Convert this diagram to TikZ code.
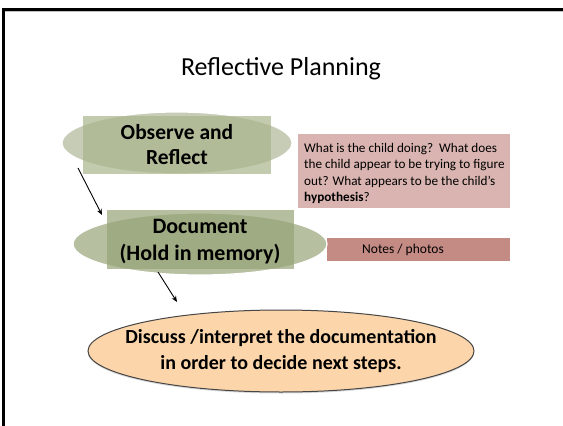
\documentclass[tikz,border=0pt]{standalone}
\usepackage{fontspec}
\setmainfont{Carlito}
\usetikzlibrary{shapes.geometric,calc,arrows.meta,shadows}
\definecolor{sageA}{RGB}{198,204,182}
\definecolor{sageAr}{RGB}{170,181,140}
\definecolor{sageB}{RGB}{183,191,161}
\definecolor{sageBr}{RGB}{150,163,118}
\definecolor{pinkbox}{RGB}{217,180,176}
\definecolor{notesbox}{RGB}{196,138,132}
\definecolor{peach}{RGB}{252,213,170}
\definecolor{rim}{RGB}{70,70,70}
\tikzset{
  ovalA/.style={ellipse, fill=sageA, draw=white, line width=1.2pt, inner sep=0pt},
  ovalB/.style={ellipse, fill=sageB, draw=white, line width=1.2pt, inner sep=0pt},
  overlay box/.style={rectangle, inner sep=0pt, fill opacity=0.7, text opacity=1},
  boldtext/.style={font=\fontsize{21.5}{25}\selectfont\bfseries, align=center, text=black},
  arr/.style={-{Stealth[length=6pt,width=5pt]}, line width=0.9pt, black},
  infobox/.style={rectangle, inner sep=0pt, anchor=north west}
}
\begin{document}
\begin{tikzpicture}[x=1pt,y=-1pt]
\useasboundingbox (0,0) rectangle (563,426);
\fill[white] (0,0) rectangle (563,426);
% slide frame
\draw[gray!50, line width=1pt] (5,11.5) -- (563,11.5);
\draw[black, line width=2.5pt] (3.5,426) -- (3.5,9.5) -- (563,9.5);
% title
\node[font=\fontsize{26}{30}\selectfont] (title) at (281,69) {Reflective Planning};
% info boxes
\node[infobox, fill=pinkbox, minimum width=212pt, minimum height=74pt] (q) at (298,134) {};
\node[anchor=north west, inner sep=0pt, align=left,
      font=\fontsize{13.2}{16.5}\selectfont] (qt) at (304,143)
  {What is the child doing?\ \ What does\\the child appear to be trying to figure\\out? What appears to be the child’s\\\textbf{hypothesis}?};
\node[infobox, fill=notesbox, minimum width=183pt, minimum height=23pt] (notes) at (327,238) {};
\node[font=\fontsize{13.5}{16}\selectfont] (notest) at (403,249.5) {Notes / photos};
% ellipse 1
\node[ovalA, minimum width=230pt, minimum height=62pt] (obs) at (177,143) {};
\node[overlay box, fill=sageAr, minimum width=188pt, minimum height=58pt] (obsr) at (177,145) {};
\node[boldtext] (obst) at (177,145) {Observe and\\Reflect};
% ellipse 2
\node[ovalB, minimum width=254pt, minimum height=62pt] (doc) at (200,244) {};
\node[overlay box, fill=sageBr, minimum width=187pt, minimum height=59pt] (docr) at (200,239.5) {};
\node[boldtext, font=\fontsize{22}{27}\selectfont\bfseries] (doct) at (200,241.5) {Document\\(Hold in memory)};
% ellipse 3
\node[ellipse, fill=peach, draw=rim, line width=1pt, minimum width=386pt, minimum height=82pt,
      drop shadow={shadow xshift=0pt, shadow yshift=-1.5pt, opacity=0.3}] (disc) at (281,351) {};
\node[boldtext, font=\fontsize{20}{26}\selectfont\bfseries] (disct) at (281,351)
  {Discuss /interpret the documentation\\in order to decide next steps.};
% arrows
\draw[arr] ($(obs.center)+(-99,25)$) -- ($(doc.center)+(-98,-29)$);
\draw[arr] ($(doc.center)+(-42,28)$) -- ($(disc.center)+(-104,-49)$);
\end{tikzpicture}
\end{document}
